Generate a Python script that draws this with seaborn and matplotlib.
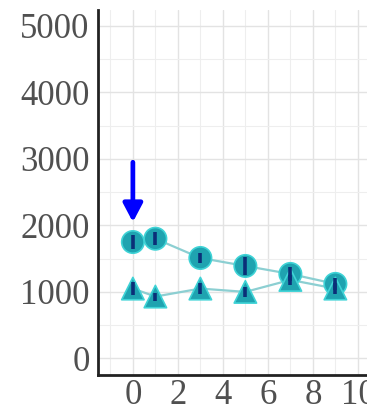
import numpy as np
import pandas as pd
import matplotlib
matplotlib.use("Agg")
import matplotlib.pyplot as plt
from matplotlib.ticker import MultipleLocator
import seaborn as sns

# Measurements for the two series
x_vals = [0, 1, 3, 5, 7, 9]
circle_vals = [1750, 1800, 1510, 1390, 1270, 1120]
circle_err = [110, 100, 80, 130, 100, 90]
triangle_vals = [1050, 930, 1050, 1000, 1180, 1050]
triangle_err = [100, 60, 80, 70, 70, 80]

# Arrow marking the first point
arrow_x = 0
arrow_tail = 2950
arrow_tip = 2050

sns.set_theme(style="white")
plt.rcParams["font.family"] = ["Liberation Serif", "DejaVu Serif"]

fig = plt.figure(figsize=(3.67, 4.11), dpi=100)
ax = fig.add_axes([98 / 367, 36 / 411, 270 / 367, 365 / 411])

df = pd.DataFrame({
    "x": x_vals * 2,
    "y": circle_vals + triangle_vals,
    "series": ["circle"] * len(x_vals) + ["triangle"] * len(x_vals),
})

line_col = "#8ccfd2"
fill_col = "#1fa3b0"
edge_col = "#3fd3d6"
err_col = "#0b2f78"

sns.lineplot(data=df, x="x", y="y", units="series", estimator=None,
             color=line_col, linewidth=1.6, ax=ax, zorder=2)
sns.scatterplot(data=df, x="x", y="y", style="series",
                markers={"circle": "o", "triangle": "^"},
                s=260, color=fill_col, edgecolor=edge_col, linewidth=1.2,
                legend=False, ax=ax, zorder=3)

ax.errorbar(x_vals, circle_vals, yerr=circle_err, fmt="none",
            ecolor=err_col, elinewidth=2.6, capsize=0, zorder=4)
ax.errorbar(x_vals, triangle_vals, yerr=triangle_err, fmt="none",
            ecolor=err_col, elinewidth=2.6, capsize=0, zorder=4)

ax.annotate("", xy=(arrow_x, arrow_tip), xytext=(arrow_x, arrow_tail),
            arrowprops=dict(arrowstyle="-|>,head_length=1.1,head_width=0.58",
                            mutation_scale=10, color="#0000ff", lw=3.4,
                            shrinkA=0, shrinkB=0),
            zorder=5)

ax.set_xlim(-1.55, 10.45)
ax.set_ylim(-250, 5240)
ax.xaxis.set_major_locator(MultipleLocator(2))
ax.xaxis.set_minor_locator(MultipleLocator(1))
ax.yaxis.set_major_locator(MultipleLocator(1000))
ax.yaxis.set_minor_locator(MultipleLocator(500))

ax.grid(which="major", color="#e3e3e3", linewidth=1.0, zorder=0)
ax.grid(which="minor", color="#eeeeee", linewidth=0.8, zorder=0)
ax.set_axisbelow(True)

for side in ("top", "right"):
    ax.spines[side].set_visible(False)
for side in ("left", "bottom"):
    ax.spines[side].set_color("#222222")
    ax.spines[side].set_linewidth(2.0)

ax.tick_params(which="major", direction="in", length=4, width=2,
               color="#222222", labelsize=25, labelcolor="#505050")
ax.tick_params(axis="y", which="major", pad=6)
ax.tick_params(axis="x", which="major", pad=3)
ax.tick_params(which="minor", length=0)

ax.set_xlabel("")
ax.set_ylabel("")

fig.savefig("out.png", dpi=100)
